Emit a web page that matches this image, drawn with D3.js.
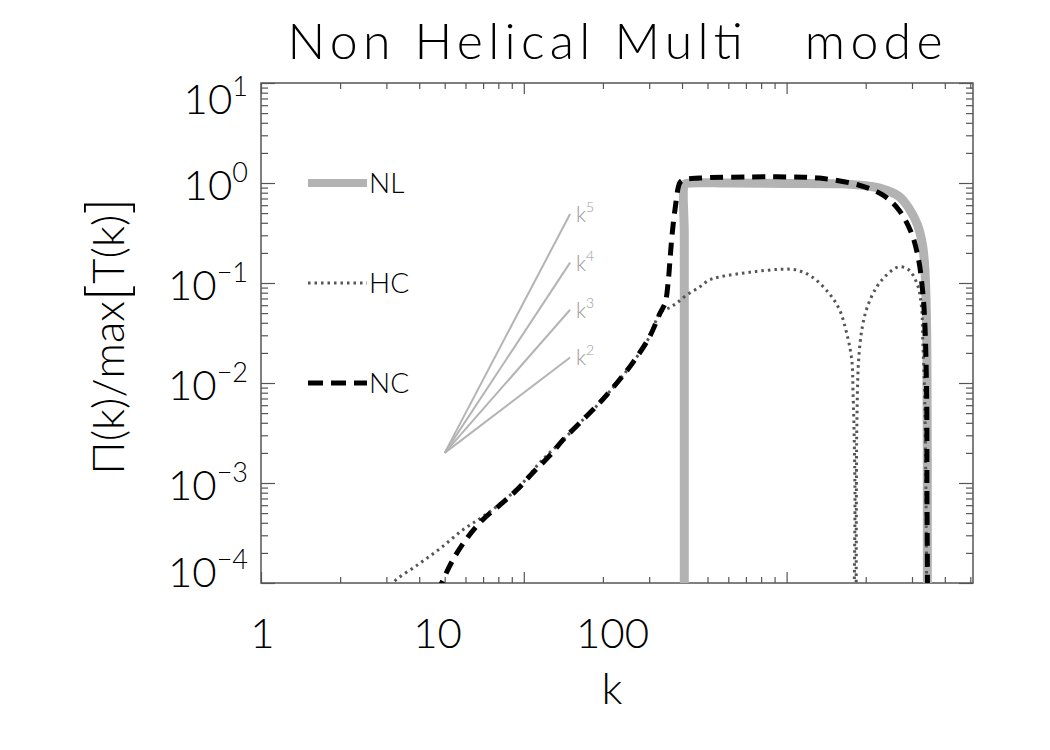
<!DOCTYPE html>
<html lang="en">
<head>
<meta charset="UTF-8">
<title>Non Helical Multi mode</title>
<script src="https://cdn.jsdelivr.net/npm/d3@7"></script>
<style>
    body { margin: 0; background: #fff; }
    text { font-family: Lato, "DejaVu Sans", sans-serif; font-weight: 300; fill: #000; }
</style>
</head>
<body>
<div id="chart"></div>
<script>
    // Data
    // NL: non-local transfer (grey thick)
    const nlK = [40.8, 40.8, 40.8, 40.8, 41.5, 60, 100, 159, 200, 226, 267, 292, 315, 329, 336, 340, 342, 343, 343.2, 343.4];
    const nlV = [1e-6, 1e-3, 0.3, 0.96, 0.99, 1.0, 0.99, 0.98, 0.94, 0.89, 0.74, 0.56, 0.38, 0.24, 0.135, 0.054, 0.017, 0.002, 1e-4, 1e-6];

    // HC: helical contribution (dotted)
    const hcK = [3.0, 3.18, 3.92, 4.79, 5.86, 6.98, 8.3, 9.9, 11.5, 14.1, 16.8, 19.4, 22.6, 26, 30.1, 33, 36, 38.2, 41.7,
        46.6, 50.7, 55.6, 74, 94, 109, 125, 145, 159, 169, 177, 179, 181, 182, 182.8,
        183.6, 184, 184.5, 185, 188, 194, 203, 220, 240, 267, 292, 315, 326, 330, 335, 338, 341, 342];
    const hcV = [7e-5, 1e-4, 1.5e-4, 2.2e-4, 3.4e-4, 4.6e-4, 6.5e-4, 1e-3, 1.6e-3, 2.7e-3, 4.3e-3, 6.3e-3, 0.01, 0.016, 0.029, 0.05, 0.057, 0.063, 0.076,
        0.091, 0.107, 0.115, 0.129, 0.137, 0.135, 0.115, 0.079, 0.054, 0.032, 0.017, 0.008, 0.0025, 8e-4, 1e-5,
        1e-5, 1e-4, 0.0017, 0.0036, 0.017, 0.036, 0.058, 0.091, 0.12, 0.145, 0.135, 0.095, 0.058, 0.025, 0.008, 0.0017, 1e-4, 1e-6];

    // NC: non-helical contribution (dashed)
    const ncK = [4.7, 4.87, 5.37, 6.07, 6.98, 8.1, 9.4, 10.8, 12.6, 14.1, 16.8, 19.4, 22.6, 26, 30.1, 33, 34.5, 35.4, 36, 36.6,
        37.6, 39.2, 40.3, 46.7, 74, 100, 133, 189, 232, 267, 298, 318, 329, 335, 341, 342, 343.5, 344];
    const ncV = [8e-5, 1e-4, 1.7e-4, 2.8e-4, 4.3e-4, 6e-4, 8.5e-4, 1.26e-3, 1.9e-3, 2.7e-3, 4.3e-3, 6.3e-3, 0.01, 0.016, 0.029, 0.05, 0.063, 0.1, 0.17, 0.29,
        0.54, 1.0, 1.07, 1.12, 1.15, 1.15, 1.12, 0.95, 0.76, 0.54, 0.32, 0.17, 0.085, 0.045, 0.008, 8e-4, 1e-4, 1e-6];

    // power-law guide lines, from k=5 to k=15
    const guideExp = [5, 4, 3, 2];
    const guideK = [5, 15];
    const guideStart = 0.002;
    const guideEnd = [0.49, 0.16, 0.054, 0.018];

    const xLabels = [1, 10, 100];
    const yDecades = [10, 1, 0.1, 0.01, 0.001, 0.0001];
    const yExp = ['1', '0', '\u22121', '\u22122', '\u22123', '\u22124'];

    const legendNames = ['NL', 'HC', 'NC'];

    const width = 1050, height = 750;
    const mLeft = 261, mRight = 973, mTop = 83, mBottom = 583;

    const x = d3.scaleLog().domain([1, 512]).range([mLeft, mRight]);
    const y = d3.scaleLog().domain([1e-4, 10]).range([mBottom, mTop]);
    // the original puts its k labels on a tighter spacing than its ticks
    const xLab = d3.scaleLog().domain([1, 100]).range([262, 612]);

    const svg = d3.select('#chart').append('svg')
        .attr('width', width).attr('height', height);

    svg.append('defs').append('clipPath').attr('id', 'plot')
        .append('rect').attr('x', mLeft).attr('y', mTop)
        .attr('width', mRight - mLeft).attr('height', mBottom - mTop);

    const isMajor = v => Math.abs(Math.log10(v) - Math.round(Math.log10(v))) < 1e-9;
    const xMinor = x.ticks().filter(v => !isMajor(v));
    const xMajor = x.ticks().filter(isMajor);
    const yMinor = y.ticks().filter(v => !isMajor(v));
    const yMajor = y.ticks().filter(isMajor);

    const axisColor = '#555';
    function styleAxis(g) {
        g.select('.domain').remove();
        g.selectAll('line').attr('stroke', axisColor).attr('stroke-width', 1.2);
        g.selectAll('text').remove();
    }

    // ticks on all four sides, pointing inward
    [[d3.axisBottom, mBottom, xMinor, 6], [d3.axisBottom, mBottom, xMajor, 11],
     [d3.axisTop, mTop, xMinor, 6], [d3.axisTop, mTop, xMajor, 11]].forEach(([ax, pos, vals, len]) => {
        svg.append('g').attr('transform', `translate(0,${pos})`)
            .call(ax(x).tickValues(vals).tickSize(-len).tickFormat(''))
            .call(styleAxis);
    });
    [[d3.axisLeft, mLeft, yMinor, 7], [d3.axisLeft, mLeft, yMajor, 14],
     [d3.axisRight, mRight, yMinor, 7], [d3.axisRight, mRight, yMajor, 14]].forEach(([ax, pos, vals, len]) => {
        svg.append('g').attr('transform', `translate(${pos},0)`)
            .call(ax(y).tickValues(vals).tickSize(-len).tickFormat(''))
            .call(styleAxis);
    });

    svg.append('rect')
        .attr('x', mLeft).attr('y', mTop)
        .attr('width', mRight - mLeft).attr('height', mBottom - mTop)
        .attr('fill', 'none').attr('stroke', axisColor).attr('stroke-width', 1.5);

    // x tick labels
    const xg = svg.append('g').attr('transform', `translate(0,${mBottom})`)
        .call(d3.axisBottom(xLab).tickValues(xLabels).tickSize(0).tickPadding(0).tickFormat(d3.format('d')));
    xg.select('.domain').remove();
    xg.selectAll('text')
        .attr('y', 65).attr('dy', 0)
        .attr('font-size', 42)
        .attr('font-family', 'Lato, "DejaVu Sans", sans-serif')
        .attr('font-weight', 300)
        .attr('fill', '#000');

    // y tick labels with superscript exponent
    yDecades.forEach((v, i) => {
        let nudge = 17;
        if (i === 0) nudge = 31;
        if (i === yDecades.length - 1) nudge = 4;
        const t = svg.append('text')
            .attr('x', 248).attr('y', y(v) + nudge)
            .attr('text-anchor', 'end')
            .attr('font-size', 42);
        t.append('tspan').text('10');
        t.append('tspan').attr('font-size', 27).attr('dy', -18).text(yExp[i]);
    });

    // axis titles
    svg.append('text')
        .attr('x', 612).attr('y', 704)
        .attr('text-anchor', 'middle')
        .attr('font-size', 44)
        .text('k');

    const yt = svg.append('text')
        .attr('transform', 'translate(124,336) rotate(-90)')
        .attr('text-anchor', 'middle')
        .attr('font-size', 44);
    yt.append('tspan').text('\u03a0(k)/max');
    yt.append('tspan').attr('font-size', 58).attr('dy', 3).text('[');
    yt.append('tspan').attr('font-size', 44).attr('dy', -3).text('T(k)');
    yt.append('tspan').attr('font-size', 58).attr('dy', 3).text(']');

    svg.append('text')
        .attr('x', 615).attr('y', 59)
        .attr('text-anchor', 'middle')
        .attr('font-size', 50)
        .attr('xml:space', 'preserve')
        .style('white-space', 'pre')
        .attr('textLength', 655)
        .attr('lengthAdjust', 'spacing')
        .text('Non Helical Multi   mode');

    // power-law guides
    const plot = svg.append('g').attr('clip-path', 'url(#plot)');
    guideExp.forEach((n, i) => {
        plot.append('line')
            .attr('x1', x(guideK[0])).attr('y1', y(guideStart))
            .attr('x2', x(guideK[1])).attr('y2', y(guideEnd[i]))
            .attr('stroke', '#b4b4b4').attr('stroke-width', 2);
        const lab = svg.append('text')
            .attr('x', x(guideK[1]) + 6).attr('y', y(guideEnd[i]) + 8)
            .attr('font-size', 21)
            .style('fill', '#9a9a9a');
        lab.append('tspan').text('k');
        lab.append('tspan').attr('font-size', 14).attr('dy', -10).text(n);
    });

    const line = d3.line()
        .x(d => x(d[0]))
        .y(d => y(d[1]))
        .curve(d3.curveCatmullRom.alpha(0.5));

    const nl = nlK.map((k, i) => [k, nlV[i]]);
    const hc = hcK.map((k, i) => [k, hcV[i]]);
    const nc = ncK.map((k, i) => [k, ncV[i]]);

    const styles = {
        NL: { stroke: '#b3b3b3', width: 9, dash: null },
        HC: { stroke: '#555', width: 3, dash: '2.5,4' },
        NC: { stroke: '#000', width: 5, dash: '13,8' },
    };

    plot.append('path').datum(nl)
        .attr('d', line)
        .attr('fill', 'none')
        .attr('stroke', styles.NL.stroke).attr('stroke-width', styles.NL.width)
        .attr('stroke-linejoin', 'round');

    plot.append('path').datum(hc)
        .attr('d', line)
        .attr('fill', 'none')
        .attr('stroke', styles.HC.stroke).attr('stroke-width', styles.HC.width)
        .attr('stroke-dasharray', styles.HC.dash);

    plot.append('path').datum(nc)
        .attr('d', line)
        .attr('fill', 'none')
        .attr('stroke', styles.NC.stroke).attr('stroke-width', styles.NC.width)
        .attr('stroke-dasharray', styles.NC.dash);

    // legend, one row per decade 10^0, 10^-1, 10^-2
    const legendY = [1, 0.1, 0.01];
    legendNames.forEach((name, i) => {
        const s = styles[name];
        const ly = y(legendY[i]);
        svg.append('line')
            .attr('x1', 308).attr('x2', 367)
            .attr('y1', ly).attr('y2', ly)
            .attr('stroke', s.stroke)
            .attr('stroke-width', name === 'NL' ? 8 : s.width)
            .attr('stroke-dasharray', name === 'NC' ? '15,8' : s.dash);
        svg.append('text')
            .attr('x', 369).attr('y', ly + 10)
            .attr('font-size', 28)
            .text(name);
    });
</script>
</body>
</html>
